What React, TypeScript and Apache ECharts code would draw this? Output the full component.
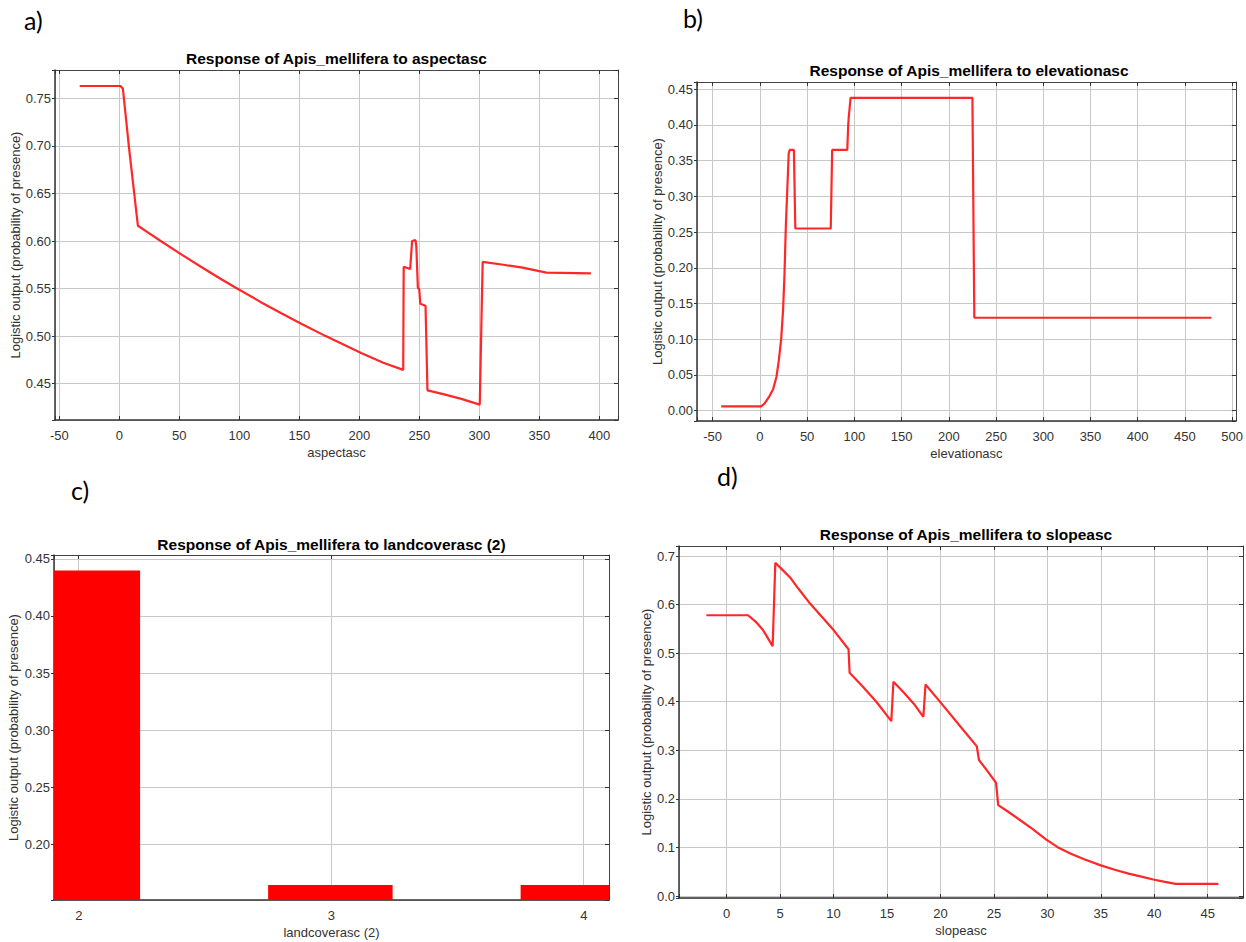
import React, { useEffect, useRef } from "react";
import * as echarts from "echarts";

// ---- Panel a: aspectasc ----
const aspectX = [-33, 1, 3, 8, 15.5, 25, 34.5, 50, 68, 85, 98.2, 118, 135, 152, 172, 202, 220, 236.6, 237, 242.4, 244, 246.8, 247.5, 248.8, 250, 250.8, 255.2, 256.8, 270, 285, 300.4, 302.8, 320, 336, 356, 393];
const aspectY = [0.763, 0.763, 0.760, 0.699, 0.616, 0.608, 0.600, 0.5872, 0.5729, 0.5598, 0.550, 0.5357, 0.524, 0.5127, 0.500, 0.4821, 0.472, 0.4645, 0.573, 0.5705, 0.600, 0.601, 0.595, 0.551, 0.549, 0.534, 0.532, 0.443, 0.439, 0.434, 0.428, 0.578, 0.575, 0.572, 0.5667, 0.566];

// ---- Panel b: elevationasc ----
const elevX = [-41, 1.5, 5, 10, 14, 17.5, 20, 22.5, 24.5, 26, 27.5, 29, 30.5, 31.5, 36, 37.5, 75, 76.5, 92.5, 93.5, 94, 96, 225, 227, 478];
const elevY = [0.006, 0.006, 0.010, 0.020, 0.030, 0.047, 0.070, 0.100, 0.140, 0.190, 0.260, 0.310, 0.360, 0.365, 0.365, 0.255, 0.255, 0.365, 0.365, 0.400, 0.410, 0.438, 0.438, 0.130, 0.130];

// ---- Panel c: landcoverasc (2) ----
const landCats = [2, 3, 4];
const landVals = [0.44, 0.164, 0.164];

// ---- Panel d: slopeasc ----
const slopeX = [-1.9, 2.0, 2.7, 3.4, 4.3, 4.55, 5.2, 6.0, 6.7, 7.8, 8.9, 10.0, 11.4, 11.5, 12.7, 14.0, 15.4, 15.6, 16.5, 17.5, 18.4, 18.6, 20.1, 21.9, 23.4, 23.6, 24.4, 25.2, 25.4, 26.3, 27.4, 28.6, 29.9, 31.0, 32.2, 33.5, 35.0, 36.3, 37.6, 38.8, 39.9, 41.0, 42.0, 46.0];
const slopeY = [0.578, 0.578, 0.565, 0.5475, 0.5145, 0.686, 0.672, 0.654, 0.633, 0.602, 0.575, 0.5475, 0.508, 0.4596, 0.432, 0.400, 0.360, 0.441, 0.4204, 0.396, 0.369, 0.4355, 0.396, 0.348, 0.308, 0.280, 0.257, 0.233, 0.187, 0.174, 0.157, 0.138, 0.116, 0.100, 0.087, 0.075, 0.063, 0.054, 0.046, 0.040, 0.034, 0.029, 0.025, 0.025];

const titles = [
  "Response of Apis_mellifera to aspectasc",
  "Response of Apis_mellifera to elevationasc",
  "Response of Apis_mellifera to landcoverasc (2)",
  "Response of Apis_mellifera to slopeasc",
];
const xNames = ["aspectasc", "elevationasc", "landcoverasc (2)", "slopeasc"];
const yName = "Logistic output (probability of presence)";
const panelLabels = ["a)", "b)", "c)", "d)"];

const FONT = "'Liberation Sans', Arial, sans-serif";

const grids = [
  { left: 55, top: 70, width: 563, height: 350 },
  { left: 697, top: 82, width: 544, height: 339 },
  { left: 54, top: 555, width: 555, height: 345 },
  { left: 679, top: 546, width: 574, height: 352 },
];
const xRanges = [[-53.6, 415.6], [-66.6, 504], [1.902, 4.1], [-4.46, 48.3]];
const yRanges = [[0.4118, 0.7798], [-0.0146, 0.4602], [0.1509, 0.4535], [-0.0041, 0.7206]];
const xSteps = [50, 50, 1, 5];
const ySteps = [0.05, 0.05, 0.05, 0.1];
const yDecimals = [2, 2, 2, 1];
const yNameGaps = [32, 31, 34, 26];
const titleCenters = [59, 71, 545, 535];
const labelPos = [[24, 7], [683, 5], [71, 477], [717, 463]];

function fmtOnStep(step: number, dec: number) {
  return (v: number) => {
    const k = v / step;
    if (Math.abs(k - Math.round(k)) > 1e-6) return "";
    return (Math.round(k) * step).toFixed(dec);
  };
}

export default function App() {
  const ref = useRef<HTMLDivElement>(null);
  useEffect(() => {
    if (!ref.current) return;
    const chart = echarts.init(ref.current, undefined, { renderer: "svg" });
    const xAxis: any[] = [];
    const yAxis: any[] = [];
    const labelStyle = { color: "#333", fontSize: 13, fontFamily: FONT };
    grids.forEach((g, i) => {
      const [xmin, xmax] = xRanges[i];
      const [ymin, ymax] = yRanges[i];
      xAxis.push({
        type: "value", gridIndex: i, min: xmin, max: xmax,
        minInterval: xSteps[i], maxInterval: xSteps[i], position: "bottom",
        name: xNames[i], nameLocation: "middle", nameGap: 26,
        nameTextStyle: { ...labelStyle },
        axisLine: { show: true, onZero: false, lineStyle: { color: "#333", width: 1.5 } },
        axisTick: { show: true, inside: true, length: 4, lineStyle: { color: "#333" } },
        axisLabel: { ...labelStyle, margin: 9, formatter: fmtOnStep(xSteps[i], 0), showMinLabel: true, showMaxLabel: true },
        splitLine: { show: true, lineStyle: { color: "#c8c8c8", width: 1 } },
      });
      xAxis.push({
        type: "value", gridIndex: i, min: xmin, max: xmax,
        minInterval: xSteps[i], maxInterval: xSteps[i], position: "top",
        axisLine: { show: true, onZero: false, lineStyle: { color: "#444", width: 1 } },
        axisTick: { show: true, inside: true, length: 4, lineStyle: { color: "#333" } },
        axisLabel: { show: false }, splitLine: { show: false },
      });
      yAxis.push({
        type: "value", gridIndex: i, min: ymin, max: ymax,
        minInterval: ySteps[i], maxInterval: ySteps[i], position: "left",
        name: yName, nameLocation: "middle", nameGap: yNameGaps[i],
        nameTextStyle: { ...labelStyle },
        axisLine: { show: true, onZero: false, lineStyle: { color: "#333", width: 1.5 } },
        axisTick: { show: true, inside: false, length: 3, lineStyle: { color: "#333" } },
        axisLabel: { ...labelStyle, margin: 4, formatter: fmtOnStep(ySteps[i], yDecimals[i]) },
        splitLine: { show: true, lineStyle: { color: "#c8c8c8", width: 1 } },
      });
      yAxis.push({
        type: "value", gridIndex: i, min: ymin, max: ymax,
        minInterval: ySteps[i], maxInterval: ySteps[i], position: "right",
        axisLine: { show: true, onZero: false, lineStyle: { color: "#444", width: 1 } },
        axisTick: { show: true, inside: true, length: 4, lineStyle: { color: "#333" } },
        axisLabel: { show: false }, splitLine: { show: false },
      });
    });

    const lineStyle = { color: "#ff1010", width: 2.2, opacity: 0.9 };
    const lineSeries = (xs: number[], ys: number[], gi: number) => ({
      type: "line",
      xAxisIndex: gi * 2,
      yAxisIndex: gi * 2,
      data: xs.map((x, k) => [x, ys[k]]),
      showSymbol: false,
      symbol: "none",
      lineStyle,
      itemStyle: { color: "#ff1010" },
      z: 5,
    });

    const TITLE_SIZE = 15.5;
    const option: any = {
      animation: false,
      backgroundColor: "#fff",
      textStyle: { fontFamily: FONT },
      grid: grids.map((g) => ({ ...g, containLabel: false })),
      title: titles.map((t, i) => ({
        text: t,
        left: grids[i].left + grids[i].width / 2,
        top: titleCenters[i] - TITLE_SIZE / 2 - 1,
        padding: 0,
        textAlign: "center",
        textStyle: { fontSize: TITLE_SIZE, fontWeight: "bold", color: "#000", fontFamily: FONT },
      })),
      xAxis,
      yAxis,
      series: [
        lineSeries(aspectX, aspectY, 0),
        lineSeries(elevX, elevY, 1),
        {
          type: "custom",
          xAxisIndex: 4,
          yAxisIndex: 4,
          data: landCats.map((c, k) => [c, landVals[k]]),
          renderItem: (params: any, api: any) => {
            const x = api.value(0);
            const y = api.value(1);
            const cs = params.coordSys;
            const p0 = api.coord([x - 0.25, y]);
            const p1 = api.coord([x + 0.243, yRanges[2][0]]);
            const left = Math.max(p0[0], cs.x);
            const right = Math.min(p1[0], cs.x + cs.width);
            return {
              type: "rect",
              shape: { x: left, y: p0[1], width: right - left, height: p1[1] - p0[1] },
              style: { fill: "#ff0000" },
            };
          },
          z: 3,
        },
        lineSeries(slopeX, slopeY, 3),
      ],
      graphic: panelLabels.map((t, i) => ({
        type: "text",
        left: labelPos[i][0],
        top: labelPos[i][1],
        style: { text: t, fontSize: 25, fontFamily: "Lato, 'Open Sans', sans-serif", fill: "#000" },
      })),
    };
    chart.setOption(option);
    return () => chart.dispose();
  }, []);
  return (
    <div
      ref={ref}
      style={{ position: "fixed", left: 0, top: 0, width: 1246, height: 942, background: "#fff" }}
    />
  );
}
